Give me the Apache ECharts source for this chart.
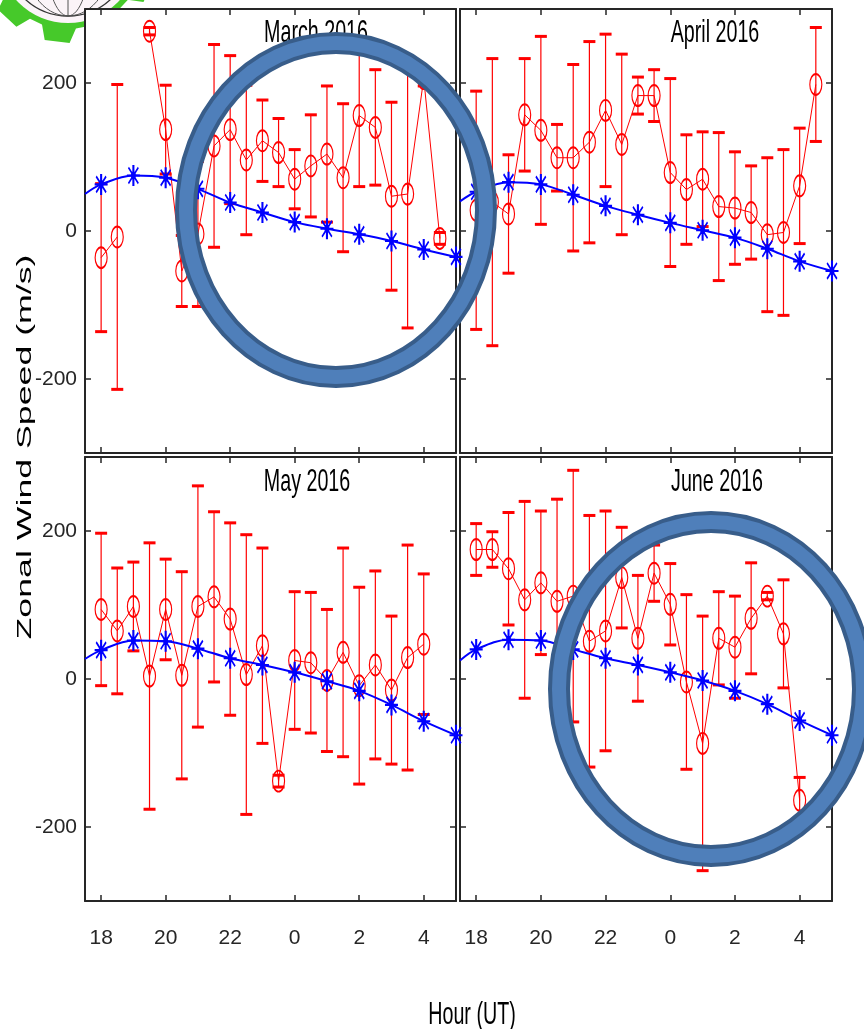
<!DOCTYPE html>
<html><head><meta charset="utf-8">
<script src="https://cdn.jsdelivr.net/npm/echarts@6/dist/echarts.min.js"></script>
<style>html,body{margin:0;padding:0;background:#fff}#c{width:864px;height:1029px}</style>
</head><body><div id="c"></div>
<script>
// ---------------- data ----------------
const panelTitles = ['March 2016', 'April 2016', 'May 2016', 'June 2016'];
const redHours = [18, 18.5, 19, 19.5, 20, 20.5, 21, 21.5, 22, 22.5, 23, 23.5, 24, 24.5, 25, 25.5, 26, 26.5, 27, 27.5, 28, 28.5];

const marchObs = [-36, -8, null, 270, 137, -54, -4, 115, 137, 96, 122, 106, 70, 88, 104, 72, 156, 140, 47, 50, 206, -10];
const marchErr = [100, 206, null, 5, 60, 48, 98, 137, 100, 101, 55, 46, 40, 69, 92, 100, 96, 78, 127, 181, 10, 8];

const aprilObs = [28, 39, 23, 157, 136, 99, 99, 120, 163, 117, 183, 183, 79, 56, 70, 33, 31, 25, -5, -2, 61, 198];
const aprilErr = [161, 194, 80, 76, 127, 45, 126, 136, 103, 122, 25, 35, 127, 74, 64, 100, 76, 63, 104, 112, 78, 77];

const mayObs = [94, 65, 98, 4, 94, 5, 98, 111, 81, 6, 45, -138, 25, 22, -2, 36, -9, 19, -15, 29, 47, null];
const mayErr = [103, 85, 60, 180, 68, 140, 163, 115, 130, 189, 132, 8, 93, 95, 96, 141, 133, 127, 100, 152, 95, null];

const juneObs = [175, 175, 149, 107, 130, 105, 112, 51, 65, 137, 55, 143, 101, -4, -87, 55, 43, 82, 112, 61, -164, null];
const juneErr = [35, 24, 76, 133, 97, 138, 170, 170, 162, 68, 85, 38, 55, 118, 172, 63, 69, 75, 5, 73, 31, null];

const blueHours = [17.5, 18, 19, 20, 21, 22, 23, 24, 25, 26, 27, 28, 29];
const marchModel = [50, 63, 75, 72, 57, 38.5, 25, 12, 3, -4.5, -13.5, -25, -35];
const aprilModel = [40, 53, 66, 63, 49, 34, 22, 11, 1, -9, -24, -41, -54];
const mayModel = [27, 39, 52, 51, 41, 28, 19, 9, -3, -16, -35, -57, -76];
const juneModel = [25, 40, 53, 52, 40, 28, 19, 9, -2, -16, -34, -56, -76];

const xTickValues = [18, 20, 22, 24, 26, 28];
const xTickLabels = ['18', '20', '22', '0', '2', '4'];
const yTickValues = [-200, 0, 200];
const yTickLabels = ['-200', '0', '200'];

const yAxisTitle = 'Zonal Wind Speed (m/s)';
const xAxisTitle = 'Hour (UT)';

// ---------------- layout / style ----------------
const obsList = [marchObs, aprilObs, mayObs, juneObs];
const errList = [marchErr, aprilErr, mayErr, juneErr];
const modelList = [marchModel, aprilModel, mayModel, juneModel];

const gridRects = [
  {left: 85, top: 9, width: 371, height: 444},
  {left: 460, top: 9, width: 372, height: 444},
  {left: 85, top: 457, width: 371, height: 444},
  {left: 460, top: 457, width: 372, height: 444}
];
const titlePos = [[316, 33], [715, 33], [307, 482], [717, 482]];

const FRAME = '#262626';
const SANS = '"Liberation Sans", Arial, sans-serif';
const RED = '#ff0000';
const BLUE = '#0000ff';
const STAR = 'path://M42 0L58 0L58 100L42 100Z M0 45L100 45L100 55L0 55Z M8 16L16 8L92 84L84 92Z M84 8L92 16L16 92L8 84Z M32 32L68 32L68 68L32 68Z';

const grid = [], xAxis = [], yAxis = [], series = [];

gridRects.forEach((g, i) => {
  grid.push(Object.assign({show: true, backgroundColor: '#fff', borderWidth: 0, containLabel: false, outerBoundsMode: 'none'}, g));
  const showX = i >= 2, showY = i % 2 === 0;
  ['bottom', 'top'].forEach((pos, j) => {
    xAxis.push({
      type: 'value', gridIndex: i, position: pos, min: 17.5, max: 29,
      axisLine: {show: true, onZero: false, lineStyle: {color: FRAME, width: 2}},
      axisTick: {show: true, inside: true, length: 6, customValues: xTickValues, lineStyle: {color: FRAME, width: 1.5}},
      axisLabel: {show: showX && j === 0, customValues: xTickValues, margin: 27, color: FRAME,
        fontFamily: SANS, fontSize: 21,
        formatter: v => { const k = xTickValues.indexOf(v); return k >= 0 ? xTickLabels[k] : ''; }},
      splitLine: {show: false}
    });
  });
  ['left', 'right'].forEach((pos, j) => {
    yAxis.push({
      type: 'value', gridIndex: i, position: pos, min: -300, max: 300,
      axisLine: {show: true, onZero: false, lineStyle: {color: FRAME, width: 2}},
      axisTick: {show: true, inside: true, length: 6, customValues: yTickValues, lineStyle: {color: FRAME, width: 1.5}},
      axisLabel: {show: showY && j === 0, customValues: yTickValues, margin: 8, color: FRAME,
        fontFamily: SANS, fontSize: 21,
        formatter: v => { const k = yTickValues.indexOf(v); return k >= 0 ? yTickLabels[k] : ''; }},
      splitLine: {show: false}
    });
  });

  const obs = obsList[i], err = errList[i], model = modelList[i];
  const errData = [];
  redHours.forEach((h, k) => { if (obs[k] != null && err[k] != null) errData.push([h, obs[k], err[k]]); });

  series.push({
    type: 'custom', xAxisIndex: 2 * i, yAxisIndex: 2 * i, z: 2, silent: true, clip: true,
    data: errData, encode: {x: 0, y: 1},
    renderItem: (params, api) => {
      const x = api.value(0), y = api.value(1), e = api.value(2);
      const t = api.coord([x, y + e]), b = api.coord([x, y - e]);
      const hw = 6;
      return {type: 'group', children: [
        {type: 'line', shape: {x1: t[0], y1: t[1], x2: b[0], y2: b[1]}, style: {stroke: RED, lineWidth: 1.2}},
        {type: 'line', shape: {x1: t[0] - hw, y1: t[1], x2: t[0] + hw, y2: t[1]}, style: {stroke: RED, lineWidth: 3}},
        {type: 'line', shape: {x1: b[0] - hw, y1: b[1], x2: b[0] + hw, y2: b[1]}, style: {stroke: RED, lineWidth: 3}}
      ]};
    }
  });
  series.push({
    type: 'line', xAxisIndex: 2 * i, yAxisIndex: 2 * i, z: 3, silent: true,
    data: redHours.map((h, k) => [h, obs[k] == null ? '-' : obs[k]]),
    symbol: 'circle', symbolSize: [12, 21], showAllSymbol: true,
    lineStyle: {color: RED, width: 1},
    itemStyle: {color: 'rgba(255,255,255,0)', borderColor: RED, borderWidth: 1.5},
    emphasis: {disabled: true}
  });
  series.push({
    type: 'line', xAxisIndex: 2 * i, yAxisIndex: 2 * i, z: 4, silent: true, smooth: 0.35,
    data: blueHours.map((h, k) => k === 0 ? {value: [h, model[k]], symbol: 'none'} : [h, model[k]]),
    symbol: STAR, symbolSize: [13, 21], showAllSymbol: true,
    lineStyle: {color: BLUE, width: 2},
    itemStyle: {color: BLUE, borderWidth: 0},
    emphasis: {disabled: true}
  });
});

// ---------------- decorations ----------------
const graphic = [];
// partial logo (gear) at top-left, behind the panels
(function () {
  const cx = 68, cy = -47, pts = [];
  for (let k = 0; k < 10; k++) {
    const c = (25 + 36 * k) * Math.PI / 180, d = Math.PI / 180;
    [[-13, 76], [-8, 90], [8, 90], [13, 76]].forEach(([a, r]) => pts.push([cx + r * Math.cos(c + a * d), cy + r * Math.sin(c + a * d)]));
  }
  graphic.push({type: 'polygon', z: -10, shape: {points: pts}, style: {fill: '#46c92a'}});
  graphic.push({type: 'circle', z: -10, shape: {cx, cy, r: 70}, style: {fill: '#fbf4f8'}});
  graphic.push({type: 'circle', z: -10, shape: {cx, cy, r: 63}, style: {fill: 'none', stroke: '#333', lineWidth: 1.3}});
  [22, 45].forEach(rx => graphic.push({type: 'ellipse', z: -10, shape: {cx, cy, rx, ry: 63}, style: {fill: 'none', stroke: '#555', lineWidth: 1}}));
  graphic.push({type: 'line', z: -10, shape: {x1: cx, y1: cy, x2: cx, y2: cy + 63}, style: {stroke: '#555', lineWidth: 1}});
})();

panelTitles.forEach((t, i) => {
  graphic.push({type: 'text', z: 50, x: titlePos[i][0], y: titlePos[i][1], scaleX: 0.82, scaleY: 1.3,
    style: {text: t, textAlign: 'center', textVerticalAlign: 'middle', font: '24px ' + SANS, fill: '#000'}});
});
graphic.push({type: 'text', z: 50, x: 472, y: 1015, scaleX: 0.82, scaleY: 1.3,
  style: {text: xAxisTitle, textAlign: 'center', textVerticalAlign: 'middle', font: '24px ' + SANS, fill: '#000'}});
graphic.push({type: 'text', z: 50, x: 25, y: 447, rotation: Math.PI / 2, scaleX: 1.7,
  style: {text: yAxisTitle, textAlign: 'center', textVerticalAlign: 'middle', font: '21px ' + SANS, fill: '#000'}});

// highlight rings
[[336, 210, 150, 167], [711, 689, 152, 167]].forEach(([cx, cy, rx, ry]) => {
  graphic.push({type: 'ellipse', z: 100, shape: {cx, cy, rx, ry}, style: {fill: 'none', stroke: '#385d8a', lineWidth: 22}});
  graphic.push({type: 'ellipse', z: 101, shape: {cx, cy, rx, ry}, style: {fill: 'none', stroke: '#4f7fba', lineWidth: 14}});
});

const chart = echarts.init(document.getElementById('c'), null, {renderer: 'canvas'});
chart.setOption({
  animation: false,
  backgroundColor: '#fff',
  textStyle: {fontFamily: SANS},
  grid, xAxis, yAxis, series, graphic
});
</script></body></html>
